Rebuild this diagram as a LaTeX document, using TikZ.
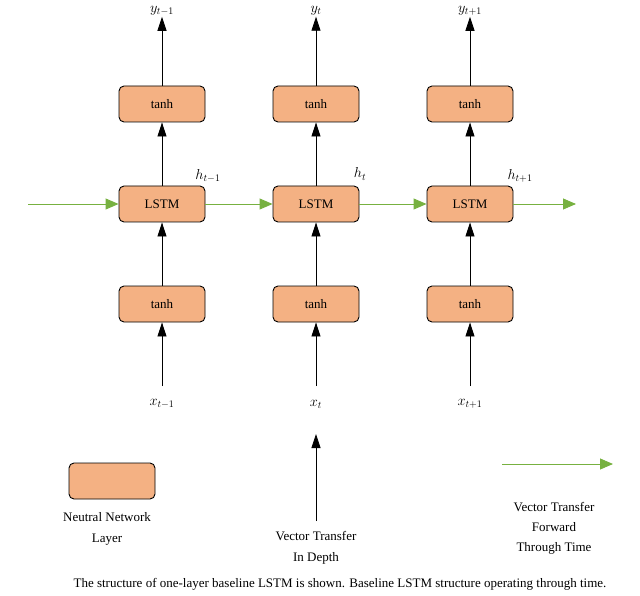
\documentclass[tikz,border=0pt]{standalone}
\usepackage{fontspec}
\setmainfont{Liberation Serif}
\usetikzlibrary{arrows.meta}
\definecolor{boxc}{HTML}{F4B183}
\definecolor{grn}{HTML}{77B140}
\begin{document}
\begin{tikzpicture}[x=1pt,y=-1pt,
 box/.style={draw=black,line width=0.9pt,fill=boxc,rounded corners=5pt,minimum width=86pt,minimum height=36pt,inner sep=0pt,font=\fontsize{13}{15}\selectfont},
 lbl/.style={font=\fontsize{14}{16}\selectfont,inner sep=1pt},
 txt/.style={font=\fontsize{13}{15}\selectfont,align=center,inner sep=0pt},
 up/.style={-{Triangle[width=9pt,length=14pt]},line width=0.8pt},
 gr/.style={-{Triangle[width=11pt,length=13pt]},draw=grn,line width=0.9pt,color=grn}]
\useasboundingbox (0,0) rectangle (640,596);
\foreach \n/\x/\s in {a/162/{t-1},b/316/t,c/470/{t+1}}{
 \node[box] (u\n) at (\x,104) {tanh};
 \node[box] (l\n) at (\x,204) {LSTM};
 \node[box] (d\n) at (\x,304) {tanh};
 \node[lbl] (y\n) at (\x,11) {$y_{\s}$};
 \node[lbl] (x\n) at (\x,404) {$x_{\s}$};
 \coordinate (xs\n) at (\x,386);
 \draw[up] (xs\n) -- (d\n);
 \draw[up] (d\n) -- (l\n);
 \draw[up] (l\n) -- (u\n);
 \draw[up] (u\n) -- (y\n);
}
\node[lbl] (ha) at (208,176) {$h_{t-1}$};
\node[lbl] (hb) at (360,174) {$h_{t}$};
\node[lbl] (hc) at (520,176) {$h_{t+1}$};
\coordinate (gs) at (28,204);
\coordinate (ge) at (576,204);
\draw[gr] (gs) -- (la);
\draw[gr] (la) -- (lb);
\draw[gr] (lb) -- (lc);
\draw[gr] (lc) -- (ge);
% legend
\node[box] (lg) at (112,481) {};
\node[txt] (lgt) at (107,529) {Neutral Network\\[6pt]Layer};
\coordinate (vs) at (316,521);
\coordinate (ve) at (316,434);
\draw[up] (vs) -- (ve);
\node[txt] (vt) at (316,548) {Vector Transfer\\[6pt]In Depth};
\coordinate (hs) at (502,464);
\coordinate (he) at (613,464);
\draw[gr] (hs) -- (he);
\node[txt] (ht) at (554,528) {Vector Transfer\\[5pt]Forward\\[5pt]Through Time};
\begin{scope}
\clip (0,570) rectangle (640,596);
\node[txt] (cap) at (340,584) {The structure of one-layer baseline LSTM is shown. Baseline LSTM structure operating through time.};
\end{scope}
\end{tikzpicture}
\end{document}
